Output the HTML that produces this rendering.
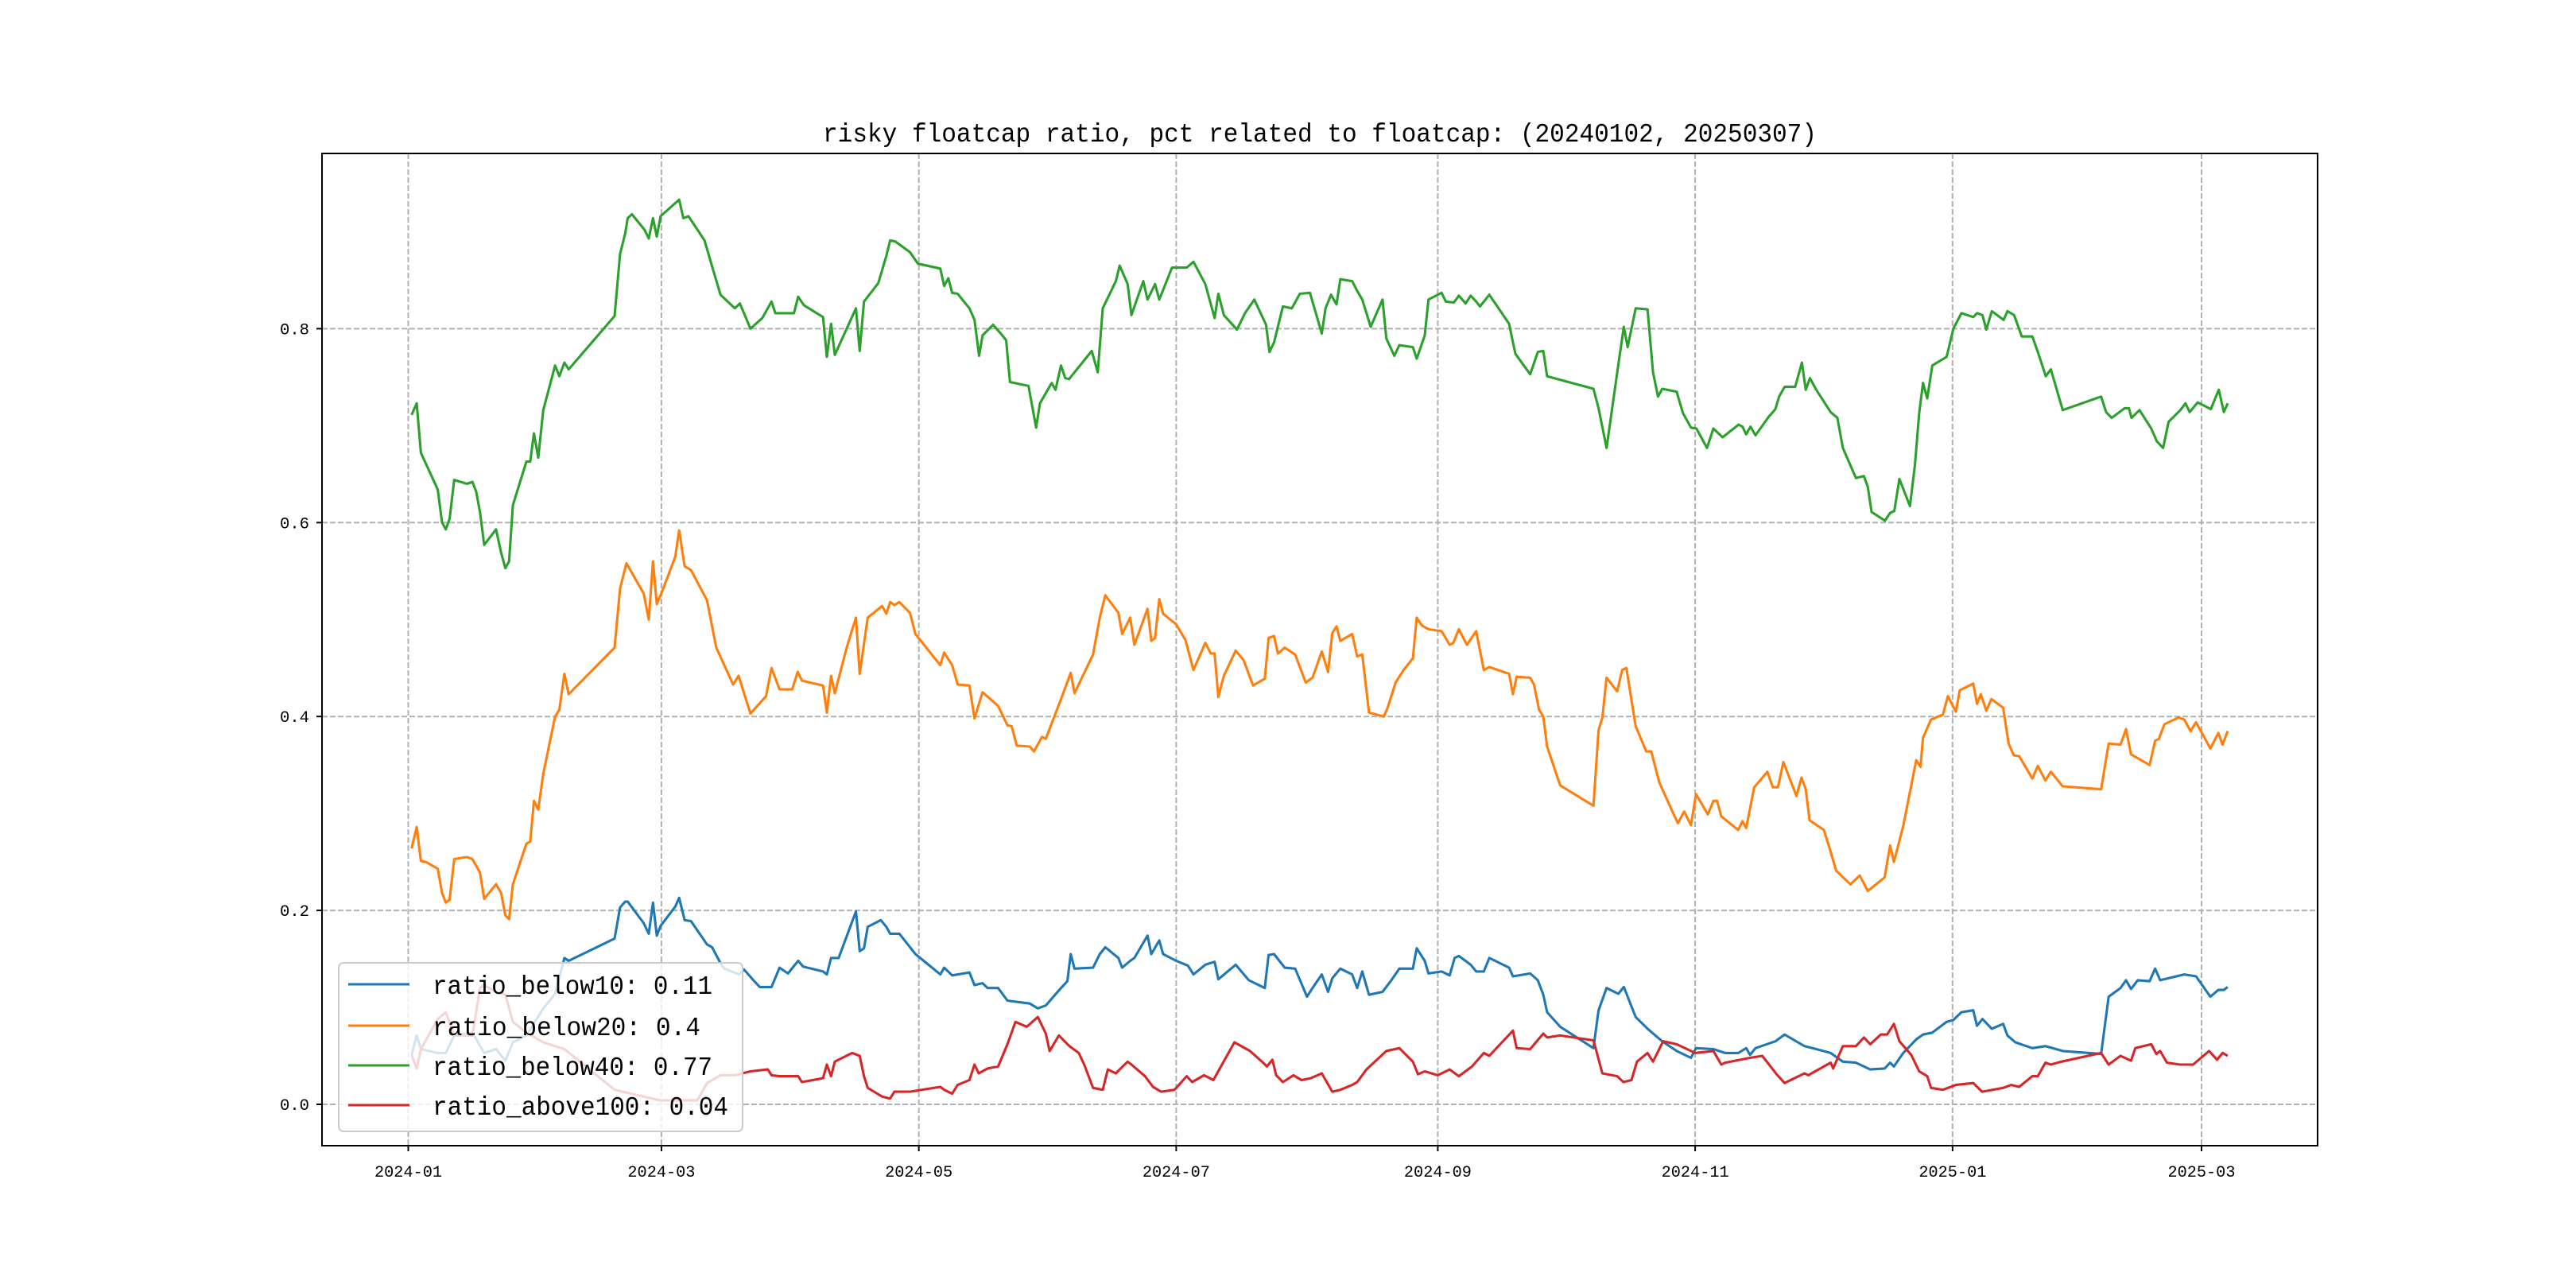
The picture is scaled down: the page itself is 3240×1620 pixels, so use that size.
<!DOCTYPE html>
<html><head><meta charset="utf-8"><style>
html,body{margin:0;padding:0;background:#fff;}
svg{display:block;}
text{font-family:"Liberation Mono","Noto Sans CJK SC",monospace;fill:#000;}
</style></head><body>
<svg id="chart" width="3240" height="1620" viewBox="0 0 3240 1620" xmlns="http://www.w3.org/2000/svg">
<rect x="0" y="0" width="3240" height="1620" fill="#fff"/>
<g id="grid"></g>
<g id="series"></g>
<rect x="405" y="193" width="2510" height="1248" fill="none" stroke="#000" stroke-width="2"/>
<g id="ticks"></g>
<text x="1660" y="178" text-anchor="middle" font-size="33" textLength="1250" lengthAdjust="spacingAndGlyphs">risky floatcap ratio, pct related to floatcap: (20240102, 20250307)</text>
<g id="legend"></g>
</svg>
<script>
const xTickDays=[0,60,121,182,244,305,366,425];
const xTickLabels=["2024-01","2024-03","2024-05","2024-07","2024-09","2024-11","2025-01","2025-03"];
const yTickValues=[0,0.2,0.4,0.6,0.8];
const yTickLabels=["0.0","0.2","0.4","0.6","0.8"];
const seriesNames=["ratio_below10: 0.11","ratio_below20: 0.4","ratio_below40: 0.77","ratio_above100: 0.04"];
const seriesColors=["#1f77b4","#ff7f0e","#2ca02c","#d62728"];

const below40Days=[0.8,2,3,7,8,8.9,9.8,10.9,13.9,15.2,16.1,17,18,20.8,22,23,23.9,24.8,28,28.9,29.8,30.8,32,34.8,35.8,37,38,48.9,50.2,51.4,52,53,56,57,58,58.9,59.8,64.2,65.2,66.4,70.2,72.1,74,77.4,78.6,81.1,83.9,86.1,87,91.4,92.4,93.8,98.3,99.2,100.2,101.1,106.1,107,108,111.4,113.3,114.2,115.4,118.9,120.8,126.1,127,128,128.9,130.2,133,134.2,135.3,136.1,138.6,140.8,141.7,142.6,147,148.8,149.7,152.5,153.4,154.7,155.7,156.6,162,163.4,164.6,167.7,168.6,170.5,171.4,174.2,175.2,177,178,181,184.5,186.1,188.9,191.1,192,193.3,196.4,198.3,200.5,203.3,204.1,205.2,207.3,209.4,211.3,213.7,216.5,217.4,218.7,220,220.9,223.7,224.9,226.1,228.1,230.9,231.8,233.7,234.9,238.1,239,240.9,241.8,244.9,245.9,247.8,249,250.6,251.8,253.1,254,256.2,260.9,261.8,262.4,265.9,267.7,269,269.9,280.9,282.1,284,286.8,288.1,289,290.9,293.7,295,296.2,297.2,300.6,302.1,304,305.3,307.8,309.3,311.5,315.3,316.2,317.1,318.1,319.3,322.4,324,324.9,326.2,328.7,330.3,331.2,332.2,333.7,337.1,338.7,340,343.1,345,345.9,346.8,350,351.2,352.2,353.4,355.9,357.1,358.1,359,360,361.2,364.6,366.2,368.1,370.9,371.8,373.1,374,375.3,378.1,379,380.6,382.4,384.9,386.2,388.1,389.3,392.1,401.2,402.4,403.7,406.8,407.8,408.4,410.3,413.1,414.4,415.9,417.2,420,421.2,422.2,424.1,427.2,429.1,430.3,431.2];
const below40Vals=[0.711,0.723,0.672,0.634,0.600,0.593,0.604,0.644,0.640,0.642,0.632,0.611,0.577,0.593,0.569,0.553,0.560,0.618,0.663,0.663,0.692,0.667,0.716,0.762,0.751,0.765,0.758,0.813,0.877,0.898,0.914,0.918,0.902,0.893,0.914,0.895,0.916,0.933,0.914,0.916,0.891,0.863,0.835,0.821,0.826,0.800,0.811,0.828,0.816,0.816,0.833,0.824,0.812,0.771,0.805,0.773,0.821,0.777,0.828,0.847,0.875,0.891,0.890,0.879,0.867,0.862,0.844,0.852,0.837,0.836,0.821,0.809,0.772,0.793,0.804,0.793,0.788,0.745,0.741,0.698,0.723,0.744,0.737,0.762,0.749,0.748,0.777,0.755,0.821,0.849,0.865,0.846,0.814,0.849,0.830,0.846,0.830,0.863,0.863,0.869,0.846,0.811,0.836,0.814,0.799,0.816,0.830,0.804,0.776,0.786,0.823,0.821,0.836,0.837,0.795,0.821,0.835,0.825,0.851,0.849,0.839,0.830,0.802,0.830,0.790,0.772,0.783,0.781,0.769,0.793,0.830,0.837,0.828,0.827,0.834,0.826,0.834,0.828,0.823,0.835,0.805,0.786,0.774,0.753,0.776,0.777,0.751,0.738,0.718,0.677,0.763,0.802,0.781,0.821,0.820,0.755,0.730,0.738,0.735,0.713,0.698,0.697,0.677,0.697,0.688,0.701,0.699,0.691,0.699,0.690,0.709,0.717,0.730,0.740,0.740,0.765,0.737,0.749,0.737,0.714,0.708,0.677,0.646,0.648,0.637,0.611,0.602,0.610,0.612,0.645,0.617,0.660,0.713,0.744,0.728,0.762,0.771,0.800,0.816,0.812,0.816,0.814,0.799,0.818,0.809,0.818,0.814,0.792,0.792,0.776,0.751,0.758,0.716,0.730,0.714,0.708,0.718,0.718,0.708,0.716,0.697,0.684,0.677,0.704,0.716,0.723,0.714,0.724,0.717,0.737,0.714,0.723,0.703,0.714];

const below20Days=[0.8,2,3,4.2,7,8,8.9,9.8,10.9,13.9,15.2,17,18,20.8,22,23,23.9,24.8,28,28.9,29.8,30.8,32,34.8,35.8,37,38,48.9,50.2,51.7,55.8,57,58,58.9,59.8,63.3,64.2,65.5,67,70.8,73,77,78.3,81.1,84.8,86.1,88,91,92.3,93.3,98.3,99.2,100.2,101.1,103.9,106.1,107,108.9,112.3,113.3,114.2,115.2,116.4,118.9,120.2,126.1,127,128.9,130.2,133,134.2,136.1,139.8,142,143,144.2,147.3,148.3,150.2,151.1,154.8,157,157.9,162.3,163.9,165.2,168.3,169.2,171.1,172.1,175.2,176.1,177,178,178.9,182,184.2,186.1,188.9,190.2,191.1,192,193.3,196.1,198,200.2,203,203.9,205.2,206.1,207.7,210.2,212.7,214.3,216.5,218,219,220,220.9,223.7,224.9,226.1,227.7,231.2,232.1,234,235.9,238.1,239,240.2,241.8,244.9,246.8,247.7,249,250.9,253.1,254.9,256.2,260.9,261.8,262.7,265.9,266.8,268,269,269.9,273,280.9,282.1,283,284,286.5,287.7,288.7,290.9,293.4,294.6,296.5,299.6,300.9,302.4,304,305.2,308,309.3,310.2,311.2,315.2,316.2,317.1,319,322.1,323.4,324.6,325.9,329,330.2,331.2,332.1,335.5,336.8,338.4,341.8,344,345.9,349.9,351.2,352.1,354.3,357.4,358.4,359,360.9,363.7,364.9,366.8,367.7,370.9,371.8,372.7,374,375.2,378,379.3,380.5,381.8,384.9,386.2,388,389.3,392.1,401.2,403,405.8,407.1,408.3,409.9,412.7,414,414.9,416.2,419.6,420.9,422.4,423.7,427.1,429,430,431.2];
const below20Vals=[0.264,0.286,0.251,0.250,0.243,0.218,0.208,0.211,0.253,0.255,0.253,0.239,0.212,0.227,0.218,0.195,0.191,0.227,0.269,0.271,0.313,0.304,0.341,0.400,0.407,0.444,0.423,0.471,0.532,0.558,0.527,0.500,0.560,0.516,0.525,0.565,0.592,0.555,0.551,0.520,0.471,0.433,0.442,0.403,0.421,0.450,0.428,0.428,0.446,0.437,0.432,0.404,0.442,0.424,0.471,0.502,0.444,0.502,0.514,0.506,0.518,0.515,0.518,0.507,0.485,0.453,0.466,0.453,0.433,0.432,0.398,0.425,0.411,0.391,0.390,0.370,0.369,0.364,0.379,0.377,0.419,0.445,0.424,0.464,0.502,0.525,0.507,0.485,0.502,0.474,0.511,0.478,0.481,0.521,0.506,0.495,0.479,0.448,0.476,0.465,0.465,0.420,0.442,0.468,0.458,0.432,0.439,0.481,0.483,0.465,0.471,0.464,0.435,0.440,0.467,0.446,0.486,0.493,0.478,0.485,0.462,0.464,0.404,0.400,0.409,0.435,0.448,0.460,0.502,0.494,0.490,0.488,0.474,0.476,0.490,0.474,0.488,0.448,0.451,0.444,0.423,0.441,0.440,0.433,0.407,0.400,0.369,0.329,0.308,0.386,0.399,0.440,0.426,0.448,0.450,0.390,0.364,0.364,0.332,0.302,0.290,0.302,0.288,0.320,0.299,0.313,0.313,0.297,0.283,0.292,0.285,0.327,0.343,0.327,0.327,0.353,0.318,0.337,0.325,0.293,0.283,0.265,0.241,0.227,0.236,0.220,0.234,0.267,0.250,0.287,0.355,0.348,0.378,0.397,0.402,0.421,0.405,0.427,0.434,0.413,0.423,0.406,0.418,0.409,0.372,0.360,0.359,0.336,0.349,0.334,0.343,0.328,0.325,0.372,0.371,0.387,0.361,0.357,0.350,0.375,0.377,0.392,0.399,0.397,0.385,0.394,0.367,0.383,0.371,0.385];

const below10Days=[0.8,2,3,7,8.9,10.9,15.2,18,20.8,23,24.8,28,32,34.8,37,38,48.9,50.2,51.4,52,55.8,57,58,58.9,59.8,63.3,64.2,65.5,67,70.8,72,74.2,74.9,78.4,79.6,82,83.3,86.1,88,90,92.4,93.6,98.3,99.2,100.2,102,106.1,107,108,108.9,112,113.3,114.2,116.4,120.2,126.1,127,128.9,133,134.2,136.1,137.3,139.8,142,147.3,149.2,151.1,154.7,156.2,157,157.9,162.3,163.9,165.2,168.3,169.2,171.1,172.1,175.2,176.1,178,178.9,182,184.8,186.1,188.9,191.1,192,196.1,199.2,203,203.9,205.2,207.7,210.2,213,214.3,216.5,218,219,220.9,223.7,224.9,226.1,227.7,230.9,233,234.9,238.1,239,240.9,241.8,244.9,246.8,248,249,251.8,253.1,254.9,256.2,260.9,261.8,265.9,267.7,269,269.9,273,280.9,282.1,284,286.8,288.1,290.9,293.7,297.2,300.6,304,305.2,309.3,312.1,315.2,317.1,318,319.3,324,326.2,330.9,333.7,337.1,340,343.1,346.5,349.9,351.2,352.1,354.3,357.4,359,361.2,364.6,366.2,368.1,370.9,371.8,373.1,375.3,378,379,380.9,384.9,388,392.1,401.2,403,405.8,407.1,408.3,409.9,412.7,414,415.2,420.9,423.7,427.1,429,430.3,431.2];
const below10Vals=[0.051,0.071,0.057,0.053,0.053,0.071,0.074,0.053,0.057,0.045,0.064,0.071,0.099,0.114,0.151,0.148,0.171,0.203,0.209,0.209,0.187,0.176,0.208,0.174,0.184,0.204,0.213,0.190,0.189,0.165,0.162,0.144,0.140,0.134,0.139,0.127,0.121,0.121,0.141,0.135,0.148,0.142,0.137,0.134,0.151,0.151,0.199,0.158,0.161,0.183,0.190,0.183,0.176,0.176,0.155,0.134,0.141,0.133,0.136,0.123,0.125,0.120,0.120,0.107,0.104,0.099,0.102,0.120,0.127,0.155,0.140,0.141,0.155,0.162,0.151,0.141,0.148,0.151,0.174,0.155,0.169,0.155,0.148,0.143,0.134,0.144,0.147,0.129,0.144,0.128,0.120,0.154,0.155,0.141,0.140,0.111,0.120,0.134,0.116,0.130,0.140,0.134,0.120,0.137,0.113,0.116,0.128,0.140,0.140,0.161,0.148,0.135,0.137,0.133,0.151,0.153,0.144,0.137,0.137,0.151,0.141,0.132,0.135,0.128,0.113,0.095,0.080,0.058,0.097,0.120,0.114,0.121,0.090,0.078,0.065,0.055,0.048,0.058,0.057,0.053,0.053,0.058,0.051,0.058,0.065,0.072,0.060,0.057,0.053,0.044,0.043,0.036,0.037,0.043,0.039,0.053,0.067,0.072,0.074,0.085,0.087,0.095,0.097,0.081,0.088,0.078,0.083,0.071,0.064,0.058,0.060,0.055,0.052,0.111,0.120,0.128,0.119,0.128,0.127,0.140,0.128,0.134,0.132,0.111,0.118,0.118,0.121];

const above100Days=[0.8,2,3,7,8.9,10.9,15.2,17,18,20.8,23,24.8,28,32,37,48.9,59.8,68.5,70.8,74,77.4,81.1,85.2,86.1,88,92.4,93.3,98.3,99.2,100.2,101.1,105.2,107,108,108.9,112.3,114.2,115.2,118.9,126.1,127,128.9,130.2,133,134.2,135.2,137.3,139.8,142,143.9,146.6,149.2,151.1,152,154.2,156.7,158.9,160.2,162.3,164.6,165.8,167.7,168.6,170.5,171.4,174.6,176.5,178.4,181.6,184.5,185.8,188.6,190.8,195.8,199.5,202.6,203.5,204.8,205.7,207.3,209.8,211.7,213.9,216.5,219,220.9,223.7,224.9,227.1,231.8,234.9,238.1,239.3,240.9,244,246.8,249,252.1,254.9,256.2,261.8,262.7,265.9,269,269.9,273,280.9,283,286.5,288,289.9,291.2,293.7,295,297.4,300.6,305,309.3,311.2,312.1,318,320.9,324.3,326.2,330.9,331.8,335.5,337.1,337.7,340,343.1,345,346.5,349,350.5,352.1,353.4,356.2,358.1,360,360.9,363.7,366.8,370.9,373,378,379.9,381.8,384.9,386.2,388,389.3,391.8,401.2,403,405.8,408.3,409.3,413.1,414.3,415.2,416.8,420,423,426.8,428.7,430,431.2];
const above100Vals=[0.051,0.037,0.057,0.088,0.095,0.071,0.071,0.120,0.123,0.116,0.113,0.085,0.074,0.064,0.057,0.015,0.004,0.004,0.022,0.030,0.030,0.034,0.036,0.030,0.029,0.029,0.023,0.027,0.041,0.029,0.044,0.053,0.050,0.029,0.017,0.008,0.006,0.013,0.013,0.018,0.015,0.011,0.020,0.025,0.041,0.032,0.037,0.039,0.062,0.085,0.080,0.090,0.073,0.055,0.071,0.060,0.053,0.041,0.017,0.015,0.036,0.032,0.036,0.044,0.041,0.029,0.018,0.013,0.015,0.029,0.023,0.030,0.025,0.064,0.055,0.043,0.039,0.046,0.030,0.023,0.030,0.025,0.027,0.032,0.013,0.015,0.020,0.023,0.036,0.055,0.058,0.044,0.031,0.034,0.030,0.036,0.029,0.039,0.053,0.050,0.076,0.058,0.057,0.073,0.069,0.071,0.066,0.032,0.029,0.023,0.025,0.044,0.053,0.044,0.065,0.062,0.053,0.055,0.041,0.043,0.048,0.050,0.031,0.022,0.032,0.030,0.039,0.043,0.037,0.060,0.060,0.069,0.062,0.072,0.072,0.083,0.065,0.051,0.034,0.029,0.017,0.015,0.020,0.022,0.013,0.017,0.020,0.018,0.029,0.029,0.043,0.041,0.044,0.053,0.041,0.050,0.045,0.058,0.062,0.052,0.055,0.043,0.041,0.041,0.055,0.046,0.053,0.050];

const NS="http://www.w3.org/2000/svg";
const X0=513.5, PXD=5.307, Y0=1389, PYV=1219.5;
function xScale(d){return X0+d*PXD;}
function yScale(v){return Y0-v*PYV;}
function mk(tag,attrs,parent){const e=document.createElementNS(NS,tag);for(const k in attrs)e.setAttribute(k,attrs[k]);parent.appendChild(e);return e;}

const grid=document.getElementById('grid');
const ticks=document.getElementById('ticks');
xTickDays.forEach((d,i)=>{
  const x=xScale(d);
  const g=mk('line',{x1:x,x2:x,y1:193,y2:1441,stroke:'#b0b0b0','stroke-width':2,'stroke-dasharray':'7,3'},grid);
  
  
  const t=mk('line',{x1:x,x2:x,y1:1441,y2:1448,stroke:'#000','stroke-width':2},ticks);
  
  
  const l=mk('text',{x:x,y:1480,'text-anchor':'middle','font-size':20,textLength:85,lengthAdjust:'spacingAndGlyphs'},ticks);
  l.textContent=xTickLabels[i];
  
  
});
yTickValues.forEach((v,i)=>{
  const y=yScale(v);
  const g=mk('line',{x1:405,x2:2915,y1:y,y2:y,stroke:'#b0b0b0','stroke-width':2,'stroke-dasharray':'7,3'},grid);
  
  
  const t=mk('line',{x1:398,x2:405,y1:y,y2:y,stroke:'#000','stroke-width':2},ticks);
  
  
  const l=mk('text',{x:389,y:y+7,'text-anchor':'end','font-size':20,textLength:37,lengthAdjust:'spacingAndGlyphs'},ticks);
  l.textContent=yTickLabels[i];
  
  
});

const seriesEl=document.getElementById('series');
const allDays=[below10Days,below20Days,below40Days,above100Days];
const allVals=[below10Vals,below20Vals,below40Vals,above100Vals];
const seriesKeys=['below10','below20','below40','above100'];
allDays.forEach((days,s)=>{
  const vals=allVals[s];
  const n=Math.min(days.length,vals.length);
  let d='';
  for(let i=0;i<n;i++){d+=(i?'L':'M')+xScale(days[i]).toFixed(1)+','+yScale(vals[i]).toFixed(1);}
  const p=mk('path',{d:d,fill:'none',stroke:seriesColors[s],'stroke-width':3.1,'stroke-linejoin':'round'},seriesEl);
  
  
});

const leg=document.getElementById('legend');
const box=mk('rect',{x:426,y:1211,width:508,height:212,rx:6,fill:'#fff','fill-opacity':0.8,stroke:'#ccc','stroke-width':2},leg);


const rowY=[1238,1290,1340,1390];
const textW=[352,337,352,372];
seriesNames.forEach((nm,i)=>{
  const ln=mk('line',{x1:438,x2:515,y1:rowY[i],y2:rowY[i],stroke:seriesColors[i],'stroke-width':3.1},leg);
  
  
  const t=mk('text',{x:544,y:rowY[i]+12,'font-size':33,textLength:textW[i],lengthAdjust:'spacingAndGlyphs'},leg);
  t.textContent=nm;
  
  
});
</script>
</body></html>
